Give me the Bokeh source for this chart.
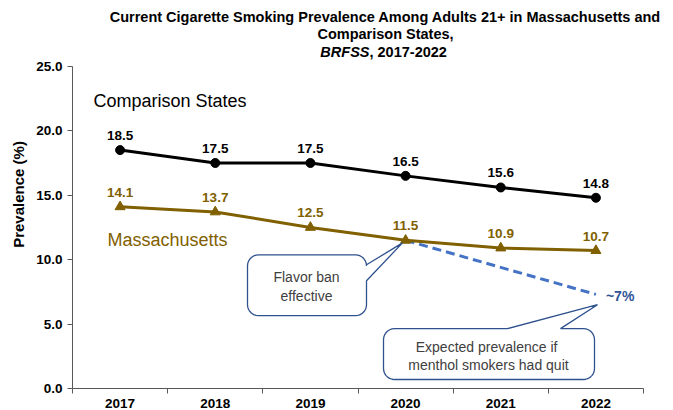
import numpy as np
from bokeh.plotting import figure
from bokeh.models import (Range1d, FixedTicker, Label, LabelSet, ColumnDataSource,
                          NumeralTickFormatter)
from bokeh.core.properties import value
from bokeh.embed import file_html
from bokeh.resources import INLINE

# ---------------- data ----------------
years = [2017, 2018, 2019, 2020, 2021, 2022]
comparison_states = [18.5, 17.5, 17.5, 16.5, 15.6, 14.8]
massachusetts = [14.1, 13.7, 12.5, 11.5, 10.9, 10.7]
expected_years = [2020, 2022]
expected_prevalence = [11.5, 7.3]
y_ticks = [0, 5, 10, 15, 20, 25]

FONT = "Liberation Sans"
GOLD = "#806000"
BLUE = "#4472C4"
DARKBLUE = "#2F528F"
CALLOUT_TEXT = "#404040"

W, H = 673, 410
LEFT, BOTTOM = 72, 21
AX_RIGHT, AX_TOP = 643, 66
PX_PER_YEAR = (AX_RIGHT - LEFT) / 6.0
PX_PER_UNIT = (H - BOTTOM - AX_TOP) / 25.0
X0 = 2016.5
X_MAX = X0 + (W - LEFT) / PX_PER_YEAR
Y_MAX = (H - BOTTOM) / PX_PER_UNIT

p = figure(width=W, height=H, output_backend="svg", toolbar_location=None,
           x_range=Range1d(X0, X_MAX), y_range=Range1d(0, Y_MAX),
           min_border_left=LEFT, min_border_right=0,
           min_border_top=0, min_border_bottom=BOTTOM)
p.outline_line_color = None
p.xgrid.visible = False
p.ygrid.visible = False
p.background_fill_color = "white"
p.border_fill_color = "white"

def xd(px):
    return X0 + (px - LEFT) / PX_PER_YEAR
def yd(py):
    return (H - BOTTOM - py) / PX_PER_UNIT

# ---------------- axes ----------------
xa = p.xaxis[0]
xa.bounds = (2016.5, 2022.5)
xa.ticker = FixedTicker(ticks=years, minor_ticks=[2016.5 + i for i in range(7)])
xa.major_tick_out = 0
xa.major_tick_in = 0
xa.minor_tick_out = 5
xa.minor_tick_in = 0
xa.minor_tick_line_color = "#595959"
xa.axis_line_color = "#595959"
xa.major_label_text_font = FONT
xa.major_label_text_font_style = "bold"
xa.major_label_text_font_size = "13.5px"
xa.major_label_text_color = "black"
xa.major_label_standoff = 5

ya = p.yaxis[0]
ya.bounds = (0, 25)
ya.ticker = FixedTicker(ticks=y_ticks, minor_ticks=[])
ya.formatter = NumeralTickFormatter(format="0.0")
ya.major_tick_out = 5
ya.major_tick_in = 0
ya.major_tick_line_color = "#595959"
ya.axis_line_color = "#595959"
ya.major_label_text_font = FONT
ya.major_label_text_font_style = "bold"
ya.major_label_text_font_size = "13.5px"
ya.major_label_text_color = "black"
ya.major_label_standoff = 5
ya.axis_label = "Prevalence (%)"
ya.axis_label_text_font = FONT
ya.axis_label_text_font_style = "bold"
ya.axis_label_text_font_size = "15px"
ya.axis_label_text_color = "black"
ya.axis_label_standoff = 6

# ---------------- series ----------------
p.line(expected_years, expected_prevalence, line_color=BLUE, line_width=3,
       line_dash="9 5")
p.line(years, comparison_states, line_color="black", line_width=3)
p.scatter(years, comparison_states, marker="circle", size=9,
          fill_color="black", line_color="black")
p.line(years, massachusetts, line_color=GOLD, line_width=3)
p.scatter(years, massachusetts, marker="triangle", size=10,
          fill_color=GOLD, line_color=GOLD)

src_c = ColumnDataSource(dict(x=years, y=comparison_states,
                              t=[f"{v:.1f}" for v in comparison_states]))
src_m = ColumnDataSource(dict(x=years, y=massachusetts,
                              t=[f"{v:.1f}" for v in massachusetts]))
for src, col in [(src_c, "black"), (src_m, GOLD)]:
    p.add_layout(LabelSet(x="x", y="y", text="t", source=src, y_offset=10,
                          text_align="center", text_baseline="bottom",
                          text_font=value(FONT), text_font_style="bold",
                          text_font_size="13.5px", text_color=col))

p.add_layout(Label(x=expected_years[-1], y=expected_prevalence[-1], x_offset=10,
                   y_offset=-2, text="~7%", text_align="left",
                   text_baseline="middle", text_font=FONT,
                   text_font_style="bold", text_font_size="14px",
                   text_color="#2F5597"))

# series names
p.add_layout(Label(x=xd(93), y=yd(101), text="Comparison States",
                   text_align="left", text_baseline="middle", text_font=FONT,
                   text_font_size="18px", text_color="black"))
p.add_layout(Label(x=xd(107), y=yd(240), text="Massachusetts",
                   text_align="left", text_baseline="middle", text_font=FONT,
                   text_font_size="18px", text_color=GOLD))

# ---------------- callouts ----------------
def arc(cx, cy, r, a0, a1, n=8):
    a = np.radians(np.linspace(a0, a1, n))
    return list(cx + r * np.cos(a)), list(cy + r * np.sin(a))

def callout(x0, y0, x1, y1, r, side, b0, b1, tip):
    xs, ys = [], []
    def add(ax, ay):
        xs.extend(ax); ys.extend(ay)
    add([x0 + r], [y0])
    if side == "top":
        add([b0, tip[0], b1], [y0, tip[1], y0])
    add(*arc(x1 - r, y0 + r, r, -90, 0))
    if side == "right":
        add([x1, tip[0], x1], [b0, tip[1], b1])
    add(*arc(x1 - r, y1 - r, r, 0, 90))
    add(*arc(x0 + r, y1 - r, r, 90, 180))
    add(*arc(x0 + r, y0 + r, r, 180, 270))
    return [xd(v) for v in xs], [yd(v) for v in ys]

cx1, cy1 = callout(247, 255, 366, 316, 11, "right", 265, 281, (402, 243))
p.patch(cx1, cy1, fill_color="white", line_color=DARKBLUE, line_width=1.3)
cx2, cy2 = callout(383, 329, 594, 380, 11, "top", 507, 560, (597, 305))
p.patch(cx2, cy2, fill_color="white", line_color=DARKBLUE, line_width=1.3)

for txt, px, py in [("Flavor ban", 306, 277), ("effective", 306, 296),
                    ("Expected  prevalence if", 488, 347),
                    ("menthol smokers had quit", 488, 365)]:
    p.add_layout(Label(x=xd(px), y=yd(py), text=txt, text_align="center",
                       text_baseline="middle", text_font=FONT,
                       text_font_size="14px", text_color=CALLOUT_TEXT))

# ---------------- title ----------------
def tl(text, px, py, align="center", style="bold"):
    p.add_layout(Label(x=xd(px), y=yd(py), text=text, text_align=align,
                       text_baseline="middle", text_font=FONT,
                       text_font_style=style, text_font_size="14.5px",
                       text_color="black"))

tl("Current Cigarette Smoking Prevalence Among Adults 21+ in Massachusetts and",
   385, 17)
tl("Comparison States,", 385, 34)
tl("BRFSS", 369, 52, align="right", style="bold italic")
tl(", 2017-2022", 369, 52, align="left")

open("out.html", "w").write(file_html(p, INLINE))
